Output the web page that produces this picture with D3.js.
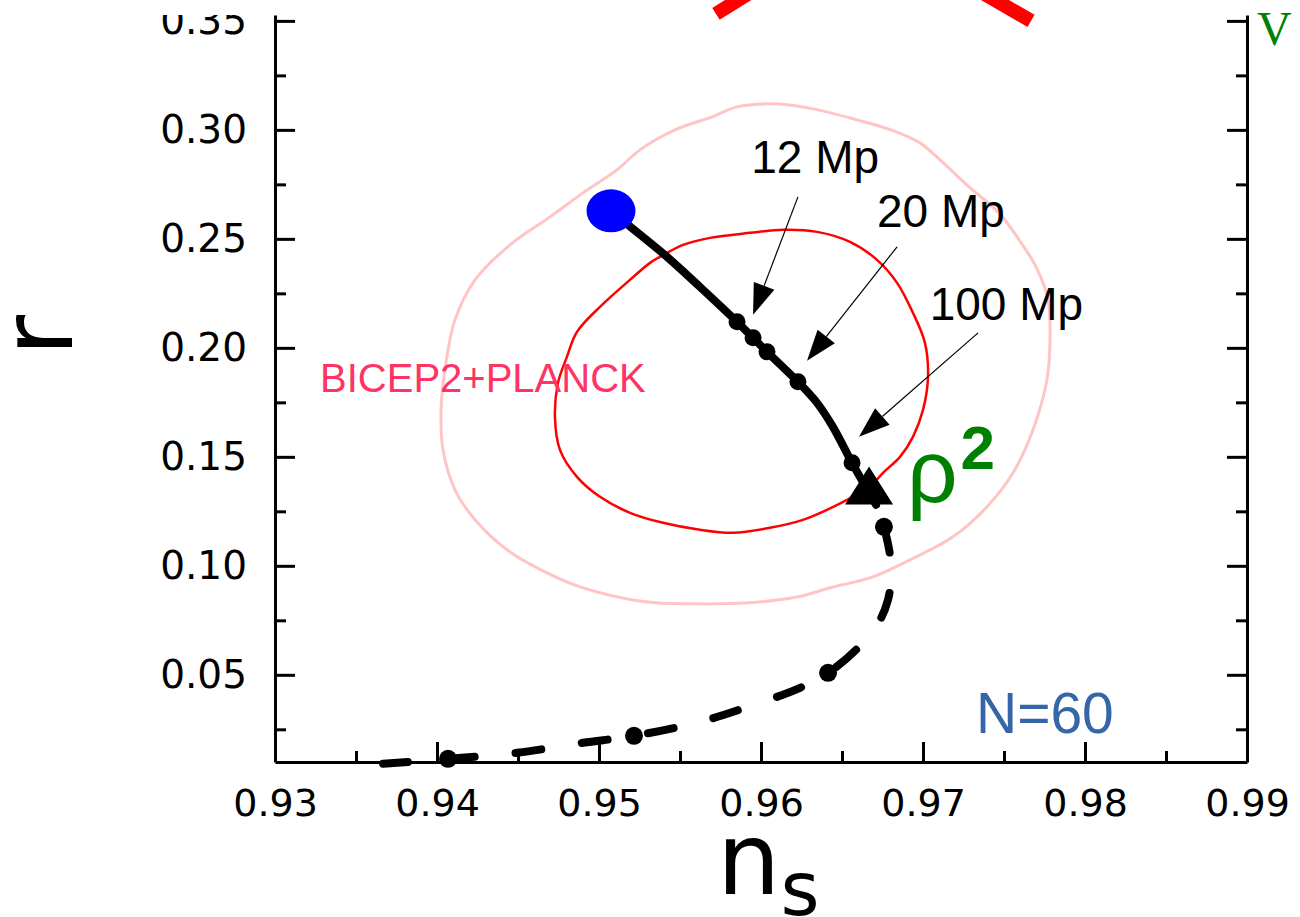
<!DOCTYPE html>
<html>
<head>
<meta charset="utf-8">
<script src="https://cdn.jsdelivr.net/npm/d3@7"></script>
<style>
  html, body { margin: 0; padding: 0; background: #fff; overflow: hidden; }
  svg { display: block; }
</style>
</head>
<body>
<svg id="chart" width="1300" height="917"></svg>
<script>
// ---------- data (n_s, r) ----------
const xTicks = [0.93, 0.94, 0.95, 0.96, 0.97, 0.98, 0.99];
const xMinorTicks = [0.935, 0.945, 0.955, 0.965, 0.975, 0.985];
const yTicks = [0.05, 0.10, 0.15, 0.20, 0.25, 0.30, 0.35];
const yMinorTicks = [0.025, 0.075, 0.125, 0.175, 0.225, 0.275, 0.325];

// BICEP2+Planck confidence contours
const outerContour = [
  [0.96056, 0.31193], [0.96290, 0.31009], [0.96593, 0.30459], [0.96802, 0.30000],
  [0.96981, 0.29404], [0.97105, 0.28624], [0.97284, 0.27385], [0.97469, 0.26193],
  [0.97593, 0.24954], [0.97698, 0.23716], [0.97772, 0.22202], [0.97784, 0.20367],
  [0.97765, 0.18532], [0.97679, 0.16239], [0.97556, 0.14266], [0.97395, 0.12706],
  [0.97185, 0.11330], [0.96920, 0.10275], [0.96691, 0.09495], [0.96426, 0.08991],
  [0.96228, 0.08578], [0.95920, 0.08303], [0.95586, 0.08257], [0.95284, 0.08349],
  [0.94883, 0.09037], [0.94642, 0.09817], [0.94432, 0.10734], [0.94235, 0.12110],
  [0.94111, 0.13486], [0.94037, 0.15321], [0.94025, 0.17156], [0.94049, 0.18991],
  [0.94111, 0.21284], [0.94235, 0.23119], [0.94451, 0.24725], [0.94698, 0.26009],
  [0.94901, 0.27110], [0.95111, 0.28165], [0.95253, 0.29083], [0.95469, 0.30000],
  [0.95698, 0.30596], [0.95852, 0.31055]
];
const innerContour = [
  [0.95377, 0.24174], [0.95519, 0.24725], [0.95685, 0.25046], [0.95932, 0.25275],
  [0.96136, 0.25413], [0.96346, 0.25321], [0.96549, 0.24862], [0.96716, 0.24037],
  [0.96840, 0.22982], [0.96938, 0.21606], [0.97012, 0.20229], [0.97031, 0.18670],
  [0.97000, 0.17156], [0.96938, 0.15917], [0.96858, 0.15000], [0.96753, 0.14266],
  [0.96673, 0.13624], [0.96531, 0.13028], [0.96407, 0.12569], [0.96259, 0.12110],
  [0.96056, 0.11743], [0.95827, 0.11514], [0.95623, 0.11651], [0.95395, 0.11972],
  [0.95191, 0.12431], [0.95006, 0.13165], [0.94864, 0.14083], [0.94759, 0.15321],
  [0.94728, 0.16835], [0.94747, 0.18394], [0.94802, 0.19587], [0.94864, 0.20734],
  [0.95006, 0.21881], [0.95191, 0.23119], [0.95315, 0.23899]
];

// edge of a neighbouring model's region, entering from above
const upperBandLeft = [[0.95722, 0.35321], [0.95994, 0.36583]];
const upperBandRight = [[0.97667, 0.35000], [0.97352, 0.36353]];

// rho^2 track: solid part (from the start point) and dashed continuation
const solidTrack = [
  [0.95074, 0.26284], [0.95179, 0.25642], [0.95420, 0.24174], [0.95623, 0.22798],
  [0.95852, 0.21193], [0.95951, 0.20459], [0.96037, 0.19817], [0.96228, 0.18440],
  [0.96346, 0.17477], [0.96444, 0.16376], [0.96562, 0.14725], [0.96710, 0.12798]
];
const solidMarkers = [
  [0.95852, 0.21193], [0.95951, 0.20459], [0.96037, 0.19817],
  [0.96228, 0.18440], [0.96562, 0.14725]
];
const dashedTrack = [
  [0.96759, 0.11789], [0.96796, 0.10505], [0.96802, 0.09358], [0.96784, 0.08440],
  [0.96735, 0.07523], [0.96599, 0.06239], [0.96414, 0.05092], [0.96241, 0.04404],
  [0.95901, 0.03486], [0.95623, 0.02844], [0.95216, 0.02202], [0.94901, 0.01881],
  [0.94494, 0.01422], [0.94068, 0.01147], [0.93667, 0.00917]
];
const dashedMarkers = [
  [0.96759, 0.11789], [0.96414, 0.05092], [0.95216, 0.02202], [0.94068, 0.01147]
];
const startPoint = [0.95074, 0.26284];
const endPoint = [0.96667, 0.13394];

// mass annotations: label anchor, arrow tail, arrow tip
const massLabels = ["12 Mp", "20 Mp", "100 Mp"];
const massLabelAt = [[0.95940, 0.28028], [0.96716, 0.25550], [0.97041, 0.21284]];
const massArrowFrom = [[0.96228, 0.26927], [0.96840, 0.24633], [0.97340, 0.20688]];
const massArrowTo = [[0.95951, 0.21514], [0.96284, 0.19404], [0.96605, 0.15917]];

const regionLabel = { text: "BICEP2+PLANCK", at: [0.93278, 0.17982] };
const efoldLabel = { text: "N=60", at: [0.97327, 0.02339] };
const modelLabel = { base: "\u03C1", sup: "2", at: [0.96901, 0.12890] };
const cornerLabel = { text: "V", at: [0.99062, 0.33900] };

// ---------- layout ----------
const svg = d3.select("#chart");
const x = d3.scaleLinear().domain([0.93, 0.99]).range([275, 1247]);
const y = d3.scaleLinear().domain([0.01, 0.3527]).range([762, 15]);
const fmt = d3.format(".2f");
const tickFont = "'DejaVu Sans', Verdana, sans-serif";
const sansFont = "'Liberation Sans', Arial, Helvetica, sans-serif";

// the frame is open at the top: nothing of the left labels shows above it
svg.append("defs").append("clipPath").attr("id", "belowTop")
  .append("rect").attr("x", 0).attr("y", y.range()[1]).attr("width", 1300).attr("height", 917);

// ---------- axes ----------
function styleAxis(g, size) {
  g.selectAll("path.domain").attr("stroke", "#000").attr("stroke-width", 3);
  g.selectAll(".tick line").attr("stroke", "#000").attr("stroke-width", 3);
  g.selectAll(".tick text").attr("fill", "#000").attr("font-family", tickFont).attr("font-size", size);
}

const gx = svg.append("g").attr("transform", `translate(0,${y.range()[0]})`)
  .call(d3.axisBottom(x).tickValues(xTicks).tickFormat(fmt).tickSize(-20).tickSizeOuter(0).tickPadding(27));
styleAxis(gx, 38);
const gxm = svg.append("g").attr("transform", `translate(0,${y.range()[0]})`)
  .call(d3.axisBottom(x).tickValues(xMinorTicks).tickFormat("").tickSize(-11).tickSizeOuter(0));
styleAxis(gxm, 38);
gxm.select("path.domain").remove();

const gyWrap = svg.append("g").attr("clip-path", "url(#belowTop)");
const gy = gyWrap.append("g").attr("transform", `translate(${x.range()[0]},0)`)
  .call(d3.axisLeft(y).tickValues(yTicks).tickFormat(fmt).tickSize(-20).tickSizeOuter(0).tickPadding(28));
styleAxis(gy, 39);
const gym = svg.append("g").attr("transform", `translate(${x.range()[0]},0)`)
  .call(d3.axisLeft(y).tickValues(yMinorTicks).tickFormat("").tickSize(-11).tickSizeOuter(0));
styleAxis(gym, 38);
gym.select("path.domain").remove();

const gr = svg.append("g").attr("transform", `translate(${x.range()[1]},0)`)
  .call(d3.axisRight(y).tickValues(yTicks).tickFormat("").tickSize(-20).tickSizeOuter(0));
styleAxis(gr, 38);
const grm = svg.append("g").attr("transform", `translate(${x.range()[1]},0)`)
  .call(d3.axisRight(y).tickValues(yMinorTicks).tickFormat("").tickSize(-11).tickSizeOuter(0));
styleAxis(grm, 38);
grm.select("path.domain").remove();

// axis titles
svg.append("text")
  .attr("transform", "translate(72,356) rotate(-90)")
  .attr("font-family", tickFont).attr("font-size", 100).attr("fill", "#000")
  .text("r");
const xt = svg.append("text")
  .attr("x", 717).attr("y", 894)
  .attr("font-family", tickFont).attr("font-size", 100).attr("fill", "#000");
xt.append("tspan").text("n");
xt.append("tspan").attr("font-size", 75).attr("dy", 21).text("s");

// ---------- contours ----------
const closed = d3.line().x(d => x(d[0])).y(d => y(d[1])).curve(d3.curveCatmullRomClosed.alpha(0.5));
svg.append("path").datum(outerContour).attr("d", closed)
  .attr("fill", "none").attr("stroke", "#ffc4c4").attr("stroke-width", 3);
svg.append("path").datum(innerContour).attr("d", closed)
  .attr("fill", "none").attr("stroke", "#ff0000").attr("stroke-width", 2.5);

// band edges at the top
const straight = d3.line().x(d => x(d[0])).y(d => y(d[1]));
[upperBandLeft, upperBandRight].forEach(seg => {
  svg.append("path").datum(seg).attr("d", straight)
    .attr("fill", "none").attr("stroke", "#ff0000").attr("stroke-width", 14).attr("stroke-linecap", "butt");
});

// ---------- model track ----------
const smooth = d3.line().x(d => x(d[0])).y(d => y(d[1])).curve(d3.curveCatmullRom.alpha(0.5));
svg.append("path").datum(solidTrack).attr("d", smooth)
  .attr("fill", "none").attr("stroke", "#000").attr("stroke-width", 8).attr("stroke-linecap", "round");
svg.append("path").datum(dashedTrack).attr("d", smooth)
  .attr("fill", "none").attr("stroke", "#000").attr("stroke-width", 8)
  .attr("stroke-linecap", "round").attr("stroke-dasharray", "26 41");

svg.selectAll("circle.smark").data(solidMarkers).join("circle").attr("class", "smark")
  .attr("cx", d => x(d[0])).attr("cy", d => y(d[1])).attr("r", 8.5).attr("fill", "#000");
svg.selectAll("circle.dmark").data(dashedMarkers).join("circle").attr("class", "dmark")
  .attr("cx", d => x(d[0])).attr("cy", d => y(d[1])).attr("r", 9).attr("fill", "#000");

// end marker (triangle) and start marker (blue disc)
const tw = 48, th = 38;
svg.append("path")
  .attr("transform", `translate(${x(endPoint[0])},${y(endPoint[1])})`)
  .attr("d", `M0,${-th * 2 / 3}L${tw / 2},${th / 3}L${-tw / 2},${th / 3}Z`)
  .attr("fill", "#000");
svg.append("ellipse")
  .attr("cx", x(startPoint[0])).attr("cy", y(startPoint[1]))
  .attr("rx", 24.5).attr("ry", 21.5).attr("fill", "#0000ff");

// ---------- annotations ----------
massLabels.forEach((lab, i) => {
  const [x0, y0] = [x(massArrowFrom[i][0]), y(massArrowFrom[i][1])];
  const [x1, y1] = [x(massArrowTo[i][0]), y(massArrowTo[i][1])];
  const ang = Math.atan2(y1 - y0, x1 - x0);
  const hl = 31, hw = 11;
  const bx = x1 - hl * Math.cos(ang), by = y1 - hl * Math.sin(ang);
  const px = -Math.sin(ang) * hw, py = Math.cos(ang) * hw;
  svg.append("line").attr("x1", x0).attr("y1", y0).attr("x2", bx).attr("y2", by)
    .attr("stroke", "#000").attr("stroke-width", 1.2);
  svg.append("path")
    .attr("d", `M${x1},${y1}L${bx + px},${by + py}L${bx - px},${by - py}Z`)
    .attr("fill", "#000");
  svg.append("text")
    .attr("x", x(massLabelAt[i][0])).attr("y", y(massLabelAt[i][1]))
    .attr("font-family", sansFont).attr("font-size", 46).attr("fill", "#000")
    .text(lab);
});

svg.append("text")
  .attr("x", x(regionLabel.at[0])).attr("y", y(regionLabel.at[1]))
  .attr("font-family", sansFont).attr("font-size", 40).attr("fill", "#ff3366")
  .text(regionLabel.text);

svg.append("text")
  .attr("x", x(efoldLabel.at[0])).attr("y", y(efoldLabel.at[1]))
  .attr("font-family", sansFont).attr("font-size", 57).attr("fill", "#3466a8")
  .text(efoldLabel.text);

const ml = svg.append("text")
  .attr("x", x(modelLabel.at[0])).attr("y", y(modelLabel.at[1]))
  .attr("font-family", sansFont).attr("font-size", 89).attr("fill", "#008000");
ml.append("tspan").text(modelLabel.base);
ml.append("tspan").attr("dx", 3).attr("dy", -34).attr("font-size", 62).attr("font-weight", "bold").text(modelLabel.sup);

svg.append("text")
  .attr("x", x(cornerLabel.at[0])).attr("y", y(cornerLabel.at[1]))
  .attr("font-family", "'Liberation Serif', 'Times New Roman', serif").attr("font-size", 48).attr("fill", "#008000")
  .text(cornerLabel.text);
</script>
</body>
</html>
